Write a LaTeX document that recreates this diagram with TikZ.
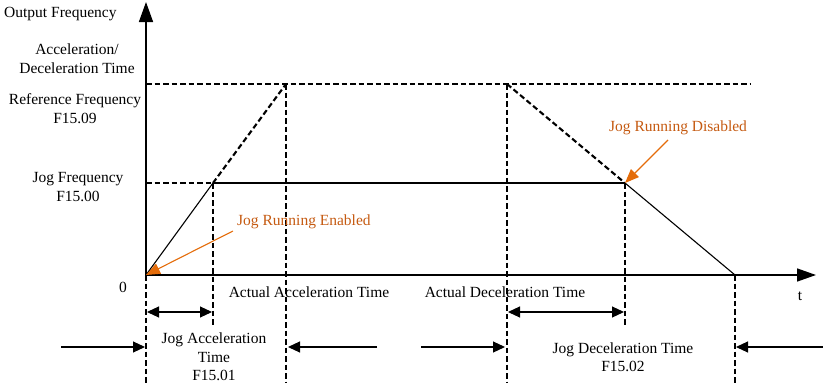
\documentclass[tikz,border=0pt]{standalone}
\usepackage{fontspec}
\setmainfont{Liberation Serif}
\usetikzlibrary{arrows.meta}
\definecolor{jogtext}{RGB}{197,90,17}
\definecolor{jogline}{RGB}{228,108,10}

\begin{document}
\begin{tikzpicture}[x=1pt, y=-1pt, >={Triangle[length=12pt,width=11pt]},
  lbl/.style={font=\fontsize{15.5}{18.5}\selectfont, inner sep=0pt, align=center},
  guide/.style={dash pattern=on 5.5pt off 3pt, line width=2.1pt},
  curve/.style={line width=1.1pt},
  pointer/.style={jogline, line width=1.1pt, -{Triangle[length=14pt,width=11pt]}}]
\useasboundingbox (0,0) rectangle (823,383);
\coordinate (O) at (146,275);
\coordinate (ytop) at (146,2);
\coordinate (xend) at (816,275);
\coordinate (refL) at (146,84);
\coordinate (refR) at (750,84);
\coordinate (jogL) at (146,183);
\coordinate (jogA) at (213,183);
\coordinate (jogD) at (625,183);
\coordinate (peakA) at (286,84);
\coordinate (peakD) at (507,84);
\coordinate (stop) at (735,275);
\draw[line width=1.5pt, -{Triangle[length=20pt,width=14pt]}] (O) -- (ytop);
\draw[line width=1.5pt, -{Triangle[length=19pt,width=13pt]}] (O) -- (xend);
\draw[guide] (refL) -- (refR);
\draw[guide] (jogL) -- (jogA);
\draw[curve] (jogA) -- (jogD);
\draw[curve] (O) -- (jogA);
\draw[guide] (jogA) -- (peakA);
\draw[guide] (peakD) -- (jogD);
\draw[curve] (jogD) -- (stop);
\draw[guide] (O) -- (146,383);
\draw[guide] (jogA) -- (213,326);
\draw[guide] (peakA) -- (286,383);
\draw[guide] (peakD) -- (507,383);
\draw[guide] (jogD) -- (625,326);
\draw[guide] (stop) -- (735,383);
\draw[curve, <->] (147,312) -- (212,312);
\draw[curve, <->] (508,312) -- (624,312);
\draw[curve, ->] (61,347) -- (145,347);
\draw[curve, ->] (377,347) -- (288,347);
\draw[curve, ->] (421,347) -- (505,347);
\draw[curve, ->] (823,347) -- (736,347);
\node[lbl, anchor=west] (outfreq) at (4,14) {Output Frequency};
\node[lbl] (acctime) at (77,58.5) {Acceleration/\\Deceleration Time};
\node[lbl] (reffreq) at (75,108.5) {Reference Frequency\\F15.09};
\node[lbl] (jogfreq) at (78,187) {Jog Frequency\\F15.00};
\node[lbl] (zero) at (123,287) {0};
\node[lbl] (tlbl) at (800,296) {t};
\node[lbl] (actacc) at (309,292) {Actual Acceleration Time};
\node[lbl] (actdec) at (505,292) {Actual Deceleration Time};
\node[lbl] (jogacc) at (214,357) {Jog Acceleration\\Time\\F15.01};
\node[lbl] (jogdec) at (623,357) {Jog Deceleration Time\\F15.02};
\node[lbl, text=jogtext, anchor=west] (enabled) at (237,222) {Jog Running Enabled};
\node[lbl, text=jogtext, anchor=west] (disabled) at (609,128) {Jog Running Disabled};
\draw[pointer] (233,231) -- (O);
\draw[pointer] (668,140) -- (jogD);
\end{tikzpicture}
\end{document}
